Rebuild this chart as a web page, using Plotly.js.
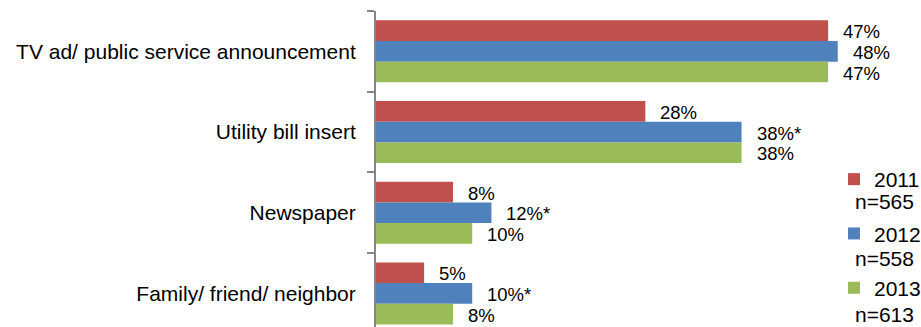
<!DOCTYPE html>
<html><head><meta charset="utf-8">
<script src="https://cdn.plot.ly/plotly-3.0.1.min.js"></script>
<style>html,body{margin:0;padding:0;background:#fff}#chart{width:921px;height:327px}</style>
</head><body><div id="chart"></div>
<script>
const categories = ["TV ad/ public service announcement", "Utility bill insert", "Newspaper", "Family/ friend/ neighbor"];
const seriesNames = ["2011", "2012", "2013"];
const sampleSizes = ["n=565", "n=558", "n=613"];
const values2011 = [47, 28, 8, 5];
const values2012 = [48, 38, 12, 10];
const values2013 = [47, 38, 10, 8];
const flags2011 = ["", "", "", ""];
const flags2012 = ["", "*", "*", "*"];
const flags2013 = ["", "", "", ""];
const colors = ["#C0504D", "#4F81BD", "#9BBB59"];

const W = 921, H = 327;
const mL = 376, mT = 11, mR = 64, mB = 0;
const plotW = W - mL - mR, plotH = H - mT - mB;
const xMax = 50;
const pxPerCat = 80.7;
const yTop = -0.5, yBottom = yTop + plotH / pxPerCat;
const bargap = 0.232;
const barPx = (1 - bargap) / 3 * pxPerCat;

const allValues = [values2011, values2012, values2013];
const allFlags = [flags2011, flags2012, flags2013];
const FONT = "Liberation Sans, Arial, sans-serif";

const traces = seriesNames.map((name, s) => ({
  type: "bar", orientation: "h", name: name,
  x: allValues[s], y: categories,
  marker: {color: colors[s], line: {width: 0}},
  legendgroup: "g" + s,
  hoverinfo: "skip"
}));

const annotations = [];
allValues.forEach((vals, s) => {
  vals.forEach((v, c) => {
    annotations.push({
      x: v, y: categories[c], xref: "x", yref: "y",
      text: v + "%" + allFlags[s][c],
      showarrow: false, xanchor: "left", yanchor: "middle",
      xshift: 13, yshift: (1 - s) * barPx - 1,
      font: {family: FONT, size: 18.5, color: "#000"}
    });
  });
});
const nY = [201, 258, 314];
const nX = 853;
sampleSizes.forEach((t, s) => {
  annotations.push({
    xref: "paper", yref: "paper",
    x: (nX - mL) / plotW, y: 1 - (nY[s] - mT) / plotH,
    text: t, showarrow: false, xanchor: "left", yanchor: "middle",
    font: {family: FONT, size: 21, color: "#000"}
  });
});

const layout = {
  width: W, height: H,
  margin: {l: mL, r: mR, t: mT, b: mB, autoexpand: false},
  paper_bgcolor: "#fff", plot_bgcolor: "#fff",
  font: {family: FONT, color: "#000"},
  barmode: "group", bargap: bargap, bargroupgap: 0,
  xaxis: {range: [0, xMax], visible: false, fixedrange: true},
  yaxis: {
    type: "category", range: [yBottom, yTop], fixedrange: true,
    showline: true, linecolor: "#868686", linewidth: 2,
    ticks: "outside", tickson: "boundaries", ticklen: 7, tickwidth: 2, tickcolor: "#868686",
    showgrid: false, zeroline: false,
    tickfont: {family: FONT, size: 21, color: "#000"},
    ticklabelstandoff: 14
  },
  showlegend: true,
  legend: {
    xref: "container", yref: "container",
    x: 834 / W, y: 1 - 159 / H, xanchor: "left", yanchor: "top",
    font: {family: FONT, size: 21, color: "#000"},
    tracegroupgap: 24, traceorder: "grouped",
    bgcolor: "rgba(0,0,0,0)", borderwidth: 0
  },
  annotations: annotations
};

Plotly.newPlot("chart", traces, layout, {displayModeBar: false, staticPlot: true});
</script>
</body></html>
